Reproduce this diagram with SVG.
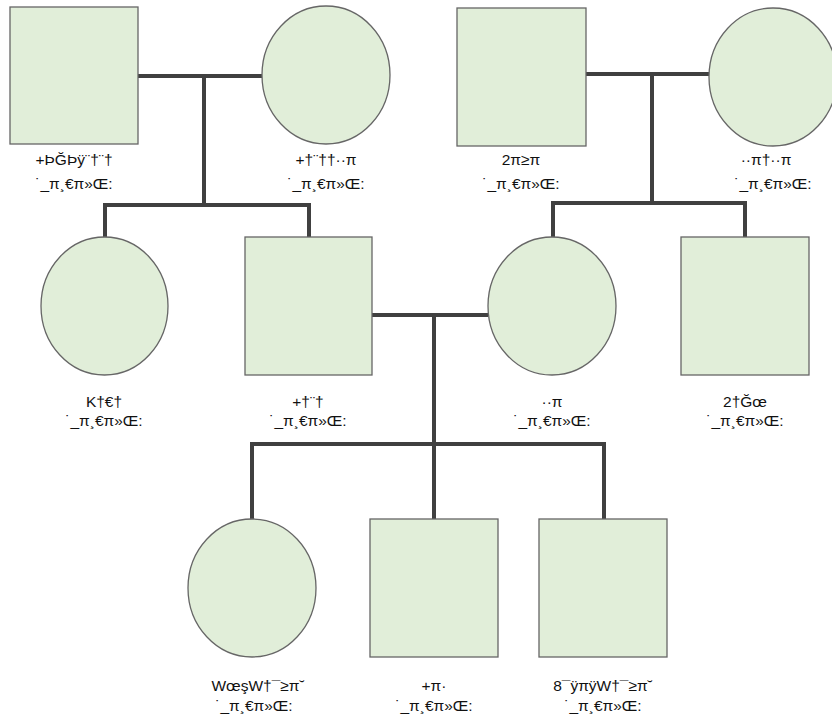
<svg xmlns="http://www.w3.org/2000/svg" width="832" height="717" viewBox="0 0 832 717">
<style>
.n{fill:#e1eed9;stroke:#666;stroke-width:1.3}
.c{fill:none;stroke:#404040;stroke-width:4;stroke-linejoin:miter;stroke-linecap:butt}
text{font-family:"Liberation Sans",Arial,sans-serif;font-size:15.5px;fill:#111;text-anchor:middle}
</style>
<rect width="832" height="717" fill="#fff"/>
<g id="connectors">
<path class="c" d="M138 76H262M204 76V205M105 205H309M105 203V237M309 203V237"/>
<path class="c" d="M586 74H709M652 74V203M553 203H745M553 201V237M745 201V237"/>
<path class="c" d="M372 315H488M434 315V519M252 444H604M252 442V519M604 442V519"/>
</g>
<g id="n1"><rect class="n" x="10" y="7" width="128" height="137"/><text x="74" y="165">+ÞĞÞÿ¨†¨†</text><text x="74" y="189">˙_π¸€π»Œ:</text></g>
<g id="n2"><ellipse class="n" cx="326" cy="75" rx="64" ry="69"/><text x="326" y="165">+†¨††··π</text><text x="326" y="189">˙_π¸€π»Œ:</text></g>
<g id="n3"><rect class="n" x="457" y="8" width="129" height="138"/><text x="521" y="165">2π≥π</text><text x="521" y="189">˙_π¸€π»Œ:</text></g>
<g id="n4"><ellipse class="n" cx="773" cy="77" rx="64" ry="69"/><text x="766" y="165">··π†··π</text><text x="773" y="189">˙_π¸€π»Œ:</text></g>
<g id="n5"><ellipse class="n" cx="104.5" cy="306" rx="63.5" ry="69"/><text x="104" y="407">K†€†</text><text x="104" y="426">˙_π¸€π»Œ:</text></g>
<g id="n6"><rect class="n" x="245" y="237" width="127" height="138"/><text x="308" y="407">+†¨†</text><text x="308" y="426">˙_π¸€π»Œ:</text></g>
<g id="n7"><ellipse class="n" cx="552" cy="306" rx="64" ry="69"/><text x="552" y="407">··π</text><text x="552" y="426">˙_π¸€π»Œ:</text></g>
<g id="n8"><rect class="n" x="681" y="237" width="128" height="138"/><text x="745" y="407">2†Ğœ</text><text x="745" y="426">˙_π¸€π»Œ:</text></g>
<g id="n9"><ellipse class="n" cx="252" cy="588" rx="64" ry="69"/><text x="258" y="691">WœşW†¯≥π˘</text><text x="254" y="711">˙_π¸€π»Œ:</text></g>
<g id="n10"><rect class="n" x="370" y="519" width="128" height="138"/><text x="434" y="691">+π·</text><text x="434" y="711">˙_π¸€π»Œ:</text></g>
<g id="n11"><rect class="n" x="539" y="519" width="128" height="138"/><text x="603" y="691">8¯ÿπÿW†¯≥π˘</text><text x="603" y="711">˙_π¸€π»Œ:</text></g>
</svg>
